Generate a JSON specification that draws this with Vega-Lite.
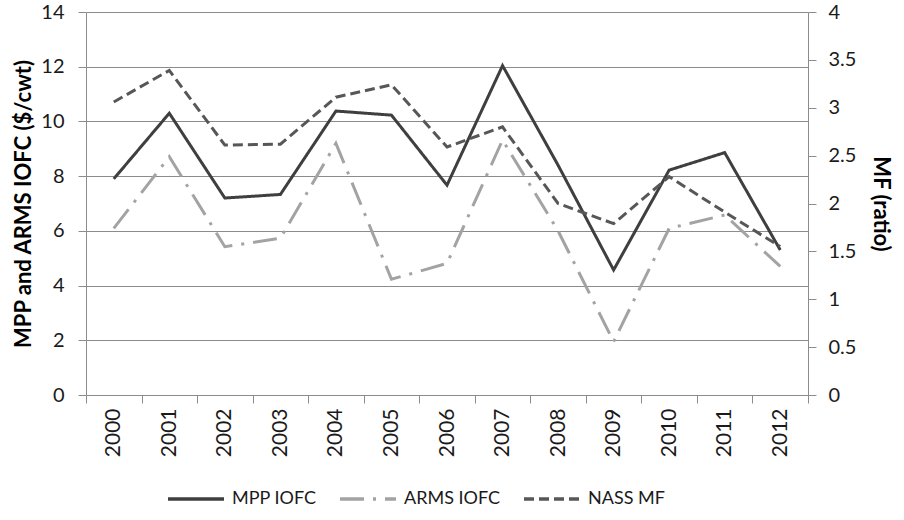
{
  "$schema": "https://vega.github.io/schema/vega-lite/v6.json",
  "width": 722,
  "height": 383,
  "autosize": {"type": "none"},
  "padding": {"left": 86, "top": 12, "right": 96, "bottom": 125},
  "background": "white",
  "config": {
    "font": "Lato",
    "view": {"stroke": null},
    "axis": {"labelFont": "Lato", "titleFont": "Lato", "labelColor": "#1a1a1a", "titleColor": "#000000", "labelFontSize": 20, "titleFontSize": 22, "titleFontWeight": "bold", "domainColor": "#8c8c8c", "tickColor": "#8c8c8c", "gridColor": "#8c8c8c", "tickSize": 8}
  },
  "data": {
    "values": [
      {"year": "2000", "series": "MPP IOFC", "value": 7.9},
      {"year": "2001", "series": "MPP IOFC", "value": 10.3},
      {"year": "2002", "series": "MPP IOFC", "value": 7.2},
      {"year": "2003", "series": "MPP IOFC", "value": 7.33},
      {"year": "2004", "series": "MPP IOFC", "value": 10.38},
      {"year": "2005", "series": "MPP IOFC", "value": 10.23},
      {"year": "2006", "series": "MPP IOFC", "value": 7.67},
      {"year": "2007", "series": "MPP IOFC", "value": 12.04},
      {"year": "2008", "series": "MPP IOFC", "value": 8.4},
      {"year": "2009", "series": "MPP IOFC", "value": 4.57},
      {"year": "2010", "series": "MPP IOFC", "value": 8.22},
      {"year": "2011", "series": "MPP IOFC", "value": 8.86},
      {"year": "2012", "series": "MPP IOFC", "value": 5.3},
      {"year": "2000", "series": "ARMS IOFC", "value": 6.09},
      {"year": "2001", "series": "ARMS IOFC", "value": 8.71},
      {"year": "2002", "series": "ARMS IOFC", "value": 5.42},
      {"year": "2003", "series": "ARMS IOFC", "value": 5.73},
      {"year": "2004", "series": "ARMS IOFC", "value": 9.2},
      {"year": "2005", "series": "ARMS IOFC", "value": 4.23},
      {"year": "2006", "series": "ARMS IOFC", "value": 4.81},
      {"year": "2007", "series": "ARMS IOFC", "value": 9.32},
      {"year": "2008", "series": "ARMS IOFC", "value": 6.0},
      {"year": "2009", "series": "ARMS IOFC", "value": 1.95},
      {"year": "2010", "series": "ARMS IOFC", "value": 6.09},
      {"year": "2011", "series": "ARMS IOFC", "value": 6.58},
      {"year": "2012", "series": "ARMS IOFC", "value": 4.7},
      {"year": "2000", "series": "NASS MF", "value": 3.06},
      {"year": "2001", "series": "NASS MF", "value": 3.39},
      {"year": "2002", "series": "NASS MF", "value": 2.61},
      {"year": "2003", "series": "NASS MF", "value": 2.62},
      {"year": "2004", "series": "NASS MF", "value": 3.11},
      {"year": "2005", "series": "NASS MF", "value": 3.24},
      {"year": "2006", "series": "NASS MF", "value": 2.59},
      {"year": "2007", "series": "NASS MF", "value": 2.8},
      {"year": "2008", "series": "NASS MF", "value": 2.0},
      {"year": "2009", "series": "NASS MF", "value": 1.79},
      {"year": "2010", "series": "NASS MF", "value": 2.28},
      {"year": "2011", "series": "NASS MF", "value": 1.91},
      {"year": "2012", "series": "NASS MF", "value": 1.55}
    ]
  },
  "encoding": {
    "x": {
      "field": "year",
      "type": "ordinal",
      "scale": {"type": "band", "paddingInner": 0, "paddingOuter": 0},
      "axis": {"title": null, "labelAngle": -90, "labelAlign": "right", "labelBaseline": "middle", "labelPadding": 5, "labelFontSize": 21, "tickBand": "extent", "grid": false, "domainColor": "#8c8c8c"}
    },
    "color": {
      "field": "series",
      "type": "nominal",
      "scale": {"domain": ["MPP IOFC", "ARMS IOFC", "NASS MF"], "range": ["#3f3f3f", "#a3a3a3", "#575757"]},
      "legend": {
        "title": null,
        "orient": "none",
        "direction": "horizontal",
        "legendX": 80,
        "legendY": 457,
        "symbolType": "stroke",
        "symbolSize": 3136,
        "symbolStrokeWidth": 3.5,
        "labelFontSize": 18,
        "labelFont": "Lato",
        "labelColor": "#1a1a1a",
        "labelOffset": 6,
        "columnPadding": 16,
        "padding": 0
      }
    },
    "strokeDash": {
      "field": "series",
      "type": "nominal",
      "scale": {"domain": ["MPP IOFC", "ARMS IOFC", "NASS MF"], "range": [[1, 0], [24, 9, 3, 9], [10, 5]]},
      "legend": null
    }
  },
  "layer": [
    {
      "transform": [{"filter": "datum.series !== 'NASS MF'"}],
      "mark": {"type": "line", "strokeWidth": 3},
      "encoding": {
        "y": {
          "field": "value",
          "type": "quantitative",
          "scale": {"domain": [0, 14], "nice": false},
          "axis": {"title": "MPP and ARMS IOFC ($/cwt)", "values": [0, 2, 4, 6, 8, 10, 12, 14], "grid": true, "labelPadding": 14, "titlePadding": 5}
        }
      }
    },
    {
      "transform": [{"filter": "datum.series === 'NASS MF'"}],
      "mark": {"type": "line", "strokeWidth": 3},
      "encoding": {
        "y": {
          "field": "value",
          "type": "quantitative",
          "scale": {"domain": [0, 4], "nice": false},
          "axis": {"title": "MF (ratio)", "orient": "right", "format": "~g", "values": [0, 0.5, 1, 1.5, 2, 2.5, 3, 3.5, 4], "grid": false, "labelPadding": 12, "titlePadding": 13}
        }
      }
    }
  ],
  "resolve": {"scale": {"y": "independent"}}
}
